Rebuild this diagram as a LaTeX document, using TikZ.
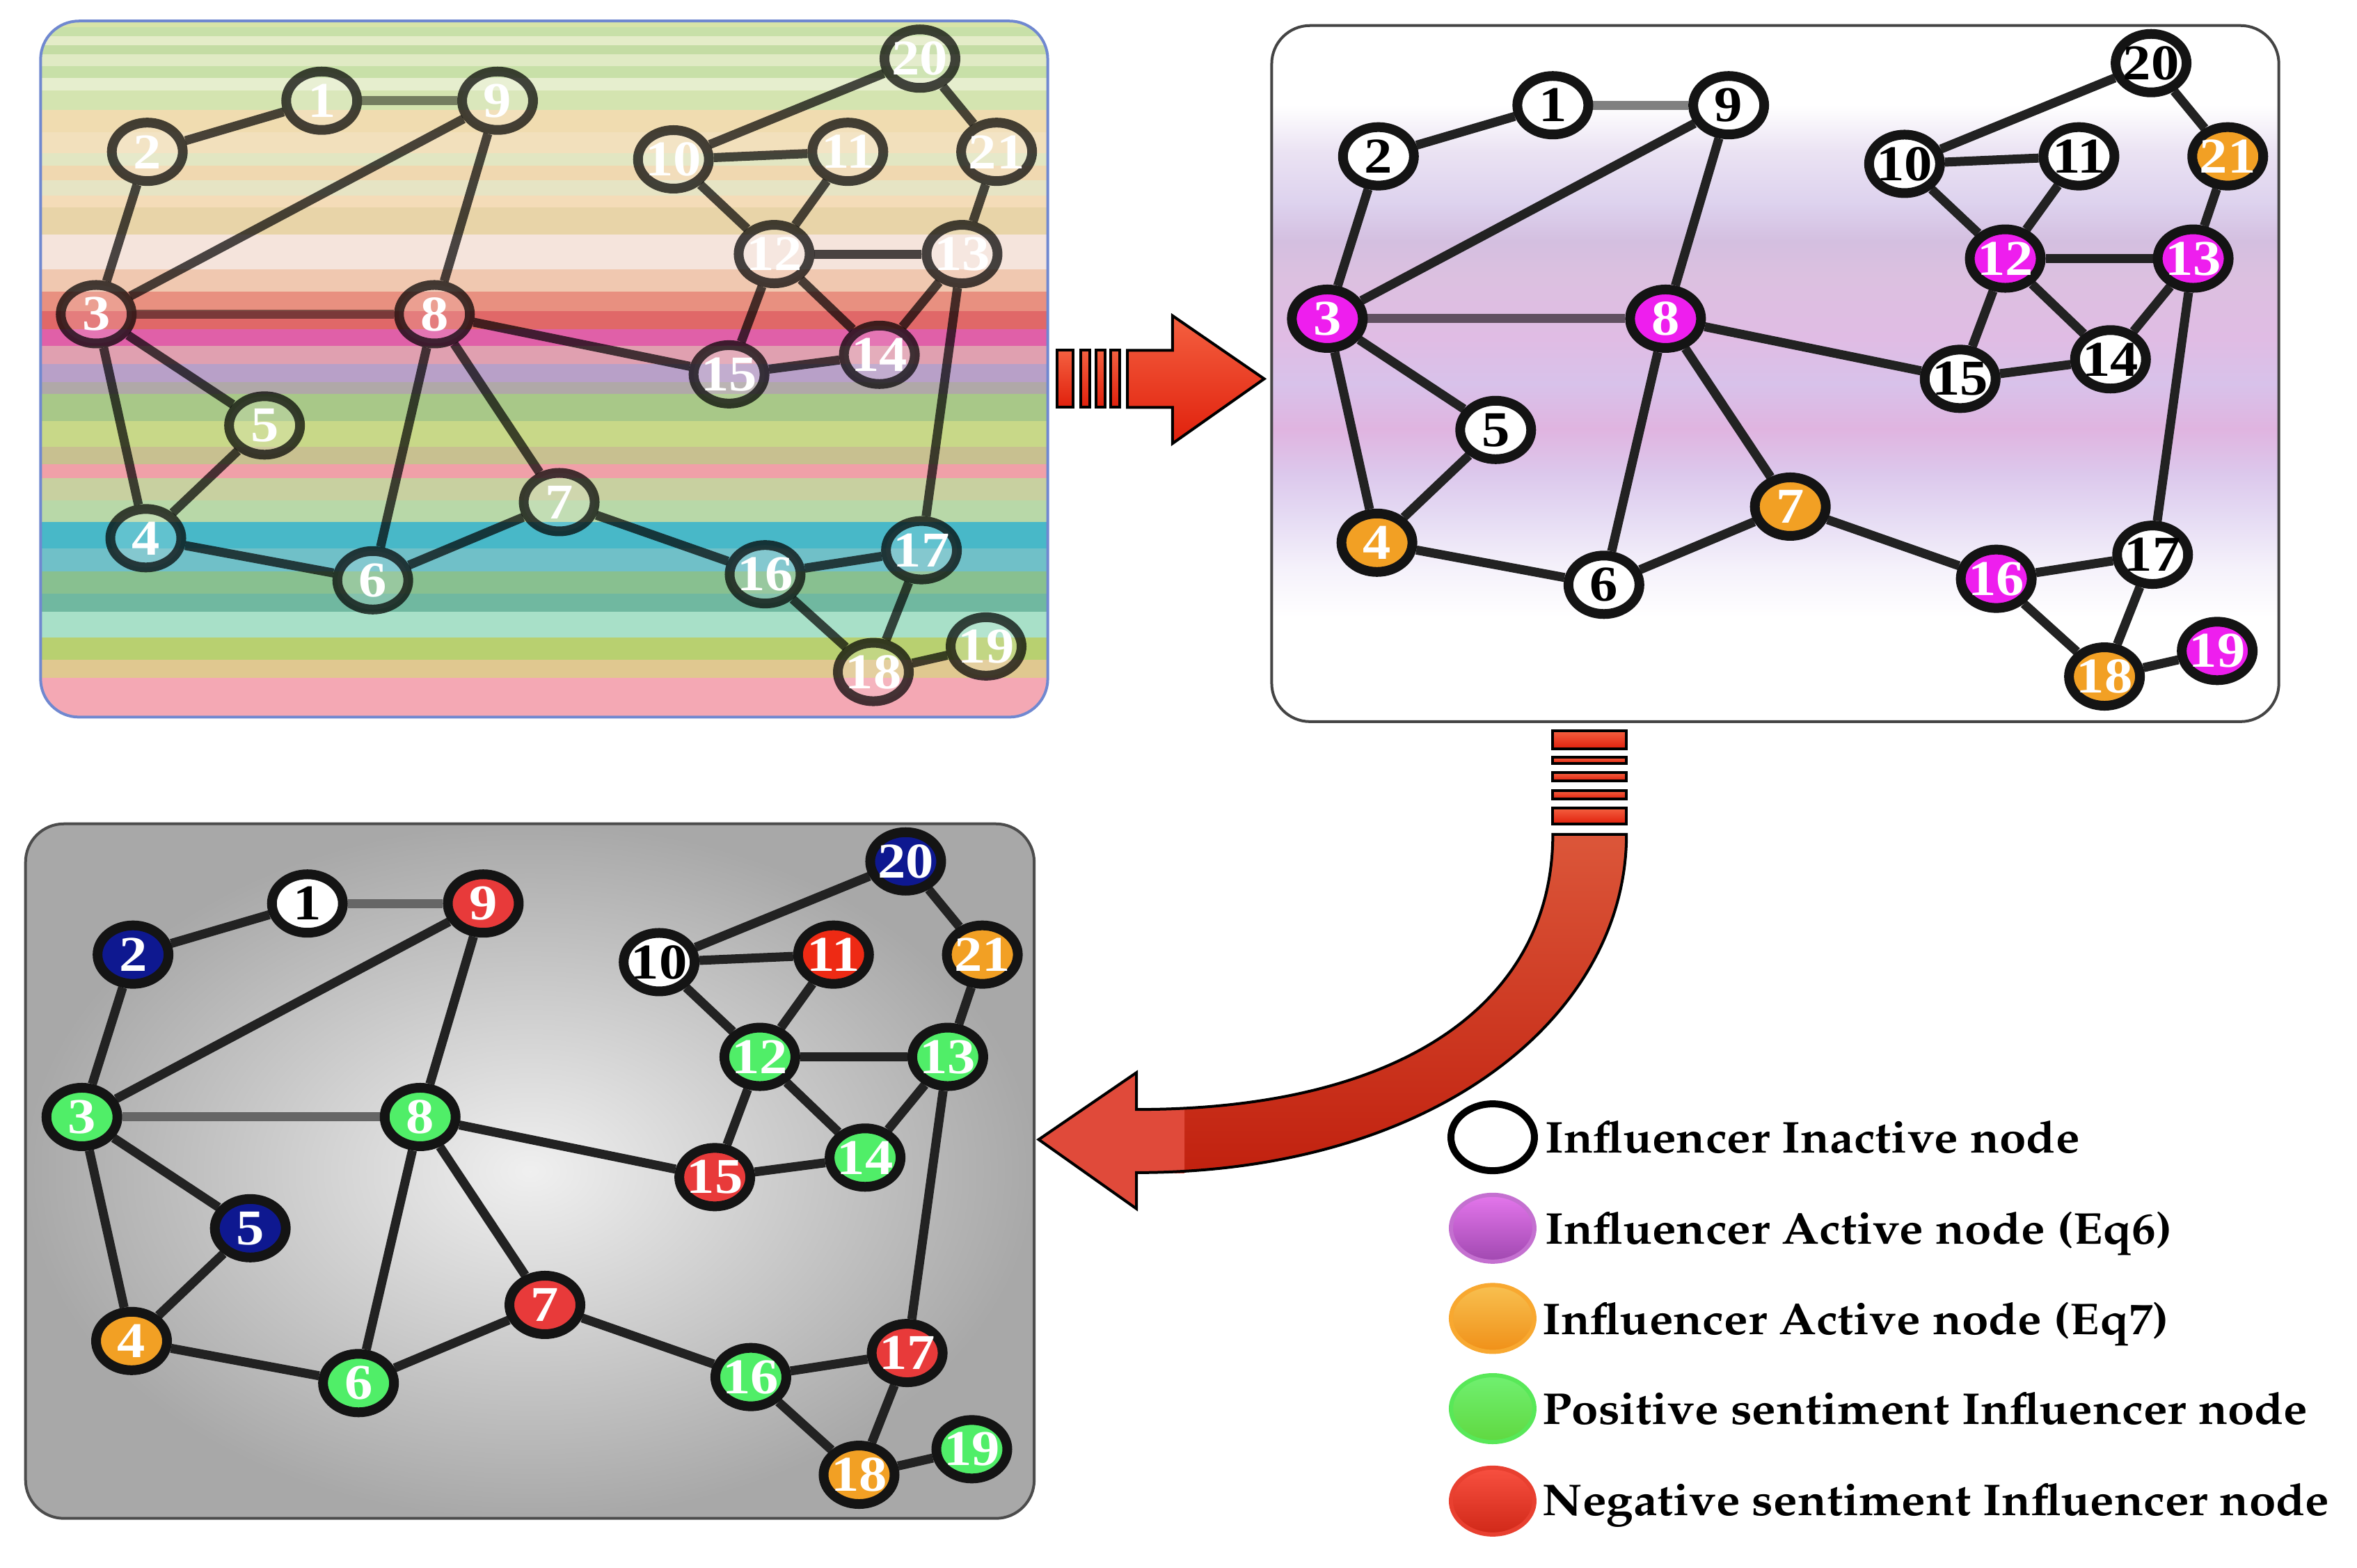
\documentclass[tikz,border=0pt]{standalone}
\usepackage[T1]{fontenc}
\usepackage{fontspec}
\usetikzlibrary{shapes.geometric}
\newfontfamily\numfont{Liberation Serif}[FakeStretch=1.12]
\newcommand{\legfont}{\fontencoding{T1}\fontfamily{ppl}\fontseries{b}\fontshape{n}\fontsize{64}{66}\selectfont}
\newcommand{\legtxt}[1]{\scalebox{1.08}[1]{#1}}
\definecolor{magn}{HTML}{EE1EEE}
\definecolor{orng}{HTML}{F2A024}
\definecolor{grn}{HTML}{50EE68}
\definecolor{redn}{HTML}{E83A3A}
\definecolor{redo}{HTML}{EE2A14}
\definecolor{blun}{HTML}{0E1890}
\definecolor{edgec}{HTML}{222222}
\definecolor{grayedge}{HTML}{666666}
\definecolor{panelborder}{HTML}{444444}
\definecolor{p1border}{HTML}{7088D0}
\definecolor{arrlight}{HTML}{F46040}
\definecolor{arrdark}{HTML}{E0200C}
\definecolor{headred}{HTML}{E04A3A}
\pgfdeclarelayer{bg}
\pgfdeclarelayer{edgelayer}
\pgfsetlayers{bg,edgelayer,main}
\newcommand\nodelist{1/214/67,9/331/67,2/98/101,3/64/209,8/289/209,5/176/283,4/97/358,6/248/386,7/372/334,10/448/106,11/564/101,20/612/39,21/663/101,12/515/169,13/640/169,15/485/249,14/585/236,16/509/382,17/613/366,18/581/447,19/656/430}
\newcommand\edgelist{1/2,2/3,3/9,3/5,3/4,5/4,4/6,6/8,8/9,8/7,6/7,8/15,7/16,10/20,10/11,10/12,11/12,20/21,21/13,12/13,12/15,12/14,13/14,15/14,13/17,16/17,16/18,17/18,18/19}
\tikzset{
  gnode/.style={ellipse, minimum width=102pt, minimum height=84pt, inner sep=0pt, line width=14pt, draw=black!92, font=\numfont\bfseries\fontsize{72}{72}\selectfont},
  pone/.style={draw=black, draw opacity=0.72, fill=white, fill opacity=0.14, text=white, text opacity=1},
  wnode/.style={fill=white, text=black},
  mnode/.style={fill=magn, text=white},
  onode/.style={fill=orng, text=white},
  gnd/.style={fill=grn, text=white},
  rnode/.style={fill=redn, text=white},
  rtwonode/.style={fill=redo, text=white},
  bnode/.style={fill=blun, text=white},
  gedge/.style={line width=13pt, draw=edgec},
  oneedge/.style={line width=13pt, draw=black, draw opacity=0.7},
  legc/.style={ellipse, minimum width=120pt, minimum height=96pt, inner sep=0pt},
  legtext/.style={anchor=base west, inner sep=0pt, font=\legfont, text=black},
  arrbox/.style={draw=black, line width=4pt, top color=arrlight, bottom color=arrdark},
  B1/.style=wnode, B2/.style=wnode, B3/.style=mnode, B4/.style=onode, B5/.style=wnode,
  B6/.style=wnode, B7/.style=onode, B8/.style=mnode, B9/.style=wnode, B10/.style=wnode,
  B11/.style=wnode, B12/.style=mnode, B13/.style=mnode, B14/.style=wnode, B15/.style=wnode,
  B16/.style=mnode, B17/.style=wnode, B18/.style=onode, B19/.style=mnode, B20/.style=wnode,
  B21/.style=onode,
  C1/.style=wnode, C2/.style=bnode, C3/.style=gnd, C4/.style=onode, C5/.style=bnode,
  C6/.style=gnd, C7/.style=rnode, C8/.style=gnd, C9/.style=rnode, C10/.style=wnode,
  C11/.style=rtwonode, C12/.style=gnd, C13/.style=gnd, C14/.style=gnd, C15/.style=rnode,
  C16/.style=gnd, C17/.style=rnode, C18/.style=onode, C19/.style=gnd, C20/.style=bnode,
  C21/.style=onode
}
\begin{document}
\begin{tikzpicture}[x=2.16pt,y=-2.16pt]
\useasboundingbox (0,0) rectangle (1568,1043);
\begin{pgfonlayer}{bg}
\fill[white] (0,0) rectangle (1568,1043);
% ---------- panel 1 background (stripes)
\begin{scope}
\clip[rounded corners=55pt] (27,14) rectangle (697,477);
\foreach \ya/\yb/\c in {14/18/D8E4A8,18/24/C8E0A8,24/30/E4ECC8,30/36/C4DCA4,36/44/E0EAC4,44/52/C8E0A8,52/60/E6EECE,60/73/D4E4B0,73/88/F0DCB0,88/102/F2E0BC,102/110/E2E6C2,110/120/F0D8B0,120/130/E6E4C4,130/138/F4DCB8,138/156/E8D4A8,156/179/F5E4DC,179/194/F0C8B0,194/207/E89080,207/219/E06868,219/230/E060A8,230/242/E0A0B0,242/254/B8A0C8,254/262/B0A8A8,262/280/A8C888,280/297/C8D888,297/309/C8C090,309/318/F0A0A8,318/333/C8D0A0,333/347/B8D8A8,347/365/48B8C8,365/380/70C0C8,380/395/88C090,395/407/70B8A0,407/424/A8E0C8,424/439/B8D070,439/451/E0C890,451/477/F4A8B4}
{\definecolor{tmpc}{HTML}{\c}\fill[tmpc] (27,\ya) rectangle (697,\yb+0.6);}
\end{scope}
\draw[rounded corners=55pt, draw=p1border, line width=4pt] (27,14) rectangle (697,477);
% ---------- panel 2 background (soft bands)
\begin{scope}
\clip[rounded corners=55pt] (846,17) rectangle (1516,480);
\fill[white] (846,17) rectangle (1516,480);
\foreach \ya/\yb/\ca/\cb in {70/100/FFFFFF/EBE3F3,100/135/EBE3F3/DDD2EE,135/160/DDD2EE/D4BFE0,160/185/D4BFE0/DCC0E0,185/225/DCC0E0/E0BCE4,225/255/E0BCE4/D8C2EA,255/285/D8C2EA/E0B4E0,285/315/E0B4E0/DCC8EC,315/345/DCC8EC/E6DCF4,345/375/E6DCF4/F4F0FA,375/410/F4F0FA/FFFFFF}
{\definecolor{ta}{HTML}{\ca}\definecolor{tb}{HTML}{\cb}\fill[top color=ta, bottom color=tb] (846,\ya) rectangle (1516,\yb+0.6);}
\end{scope}
\draw[rounded corners=55pt, draw=panelborder, line width=4pt] (846,17) rectangle (1516,480);
% ---------- panel 3 background (radial grey)
\fill[rounded corners=55pt, inner color=black!6, outer color=black!34] (17,548) rectangle (688,1010);
\draw[rounded corners=55pt, draw=black!70, line width=4pt] (17,548) rectangle (688,1010);
\end{pgfonlayer}

% ---------- panel 1 graph
\foreach \n/\x/\y in \nodelist {\node[gnode,pone] (A\n) at (\x,\y) {\makebox[0pt]{\n}};}
\begin{pgfonlayer}{edgelayer}
\foreach \a/\b in \edgelist {\draw[oneedge] (A\a) -- (A\b);}
\draw[oneedge, draw opacity=0.45] (A1) -- (A9);
\draw[oneedge, draw opacity=0.45] (A3) -- (A8);
\end{pgfonlayer}

% ---------- panel 2 graph
\begin{scope}[shift={(819,3)}]
\foreach \n/\x/\y in \nodelist {\node[gnode,B\n] (B\n) at (\x,\y) {\makebox[0pt]{\n}};}
\end{scope}
\begin{pgfonlayer}{edgelayer}
\foreach \a/\b in \edgelist {\draw[gedge] (B\a) -- (B\b);}
\draw[gedge, draw=black!50] (B1) -- (B9);
\draw[gedge, draw={rgb,255:red,96;green,80;blue,96}] (B3) -- (B8);
\end{pgfonlayer}

% ---------- panel 3 graph
\begin{scope}[shift={(-9.5,534)}]
\foreach \n/\x/\y in \nodelist {\node[gnode,C\n] (C\n) at (\x,\y) {\makebox[0pt]{\n}};}
\end{scope}
\begin{pgfonlayer}{edgelayer}
\foreach \a/\b in \edgelist {\draw[gedge] (C\a) -- (C\b);}
\draw[gedge, draw=grayedge] (C1) -- (C9);
\draw[gedge, draw=grayedge] (C3) -- (C8);
\end{pgfonlayer}

% ---------- straight arrow
\draw[arrbox] (703,233) rectangle (714,271);
\draw[arrbox] (719,233) rectangle (725,271);
\draw[arrbox] (729,233) rectangle (735,271);
\draw[arrbox] (739,233) rectangle (745,271);
\draw[arrbox, line join=miter] (750,233) -- (780,233) -- (780,210) -- (841,252) -- (780,295) -- (780,271) -- (750,271) -- cycle;

% ---------- curved arrow
\draw[arrbox] (1033,486) rectangle (1082,498);
\draw[arrbox] (1033,503.5) rectangle (1082,508);
\draw[arrbox] (1033,514) rectangle (1082,519.5);
\draw[arrbox] (1033,526) rectangle (1082,531.5);
\draw[arrbox] (1033,537.5) rectangle (1082,548);
\fill[top color=arrlight!90!black, bottom color=arrdark!85!black]
  (1033,555) -- (1082,555) .. controls (1082,675) and (956,780) .. (756,780)
  -- (756,804) -- (691,758) -- (756,713.5) -- (756,738)
  .. controls (936,738) and (1033,665) .. (1033,555) -- cycle;
\fill[fill=headred] (691,758) -- (756,713.5) -- (756,738) -- (788,736.5) -- (788,780.5) -- (756,780) -- (756,804) -- cycle;
\draw[draw=black, line width=4pt, line join=miter]
  (1033,555) -- (1082,555) .. controls (1082,675) and (956,780) .. (756,780)
  -- (756,804) -- (691,758) -- (756,713.5) -- (756,738)
  .. controls (936,738) and (1033,665) .. (1033,555) -- cycle;

% ---------- legend
\node[legc, fill=white, draw=black, line width=10pt] (L1) at (993,756.5) {};
\node[legc, top color={rgb,255:red,228;green,118;blue,236}, bottom color={rgb,255:red,160;green,72;blue,176}, draw={rgb,255:red,196;green,112;blue,208}, line width=6pt] (L2) at (993,817) {};
\node[legc, top color={rgb,255:red,248;green,192;blue,80}, bottom color={rgb,255:red,240;green,144;blue,24}, draw={rgb,255:red,248;green,168;blue,48}, line width=6pt] (L3) at (993,877) {};
\node[legc, top color={rgb,255:red,112;green,240;blue,112}, bottom color={rgb,255:red,96;green,216;blue,64}, draw={rgb,255:red,88;green,232;blue,88}, line width=6pt] (L4) at (993,937) {};
\node[legc, top color={rgb,255:red,248;green,80;blue,64}, bottom color={rgb,255:red,208;green,40;blue,24}, draw={rgb,255:red,232;green,64;blue,48}, line width=6pt] (L5) at (993,998.5) {};
\node[legtext] (T1) at (1028,767) {\legtxt{Influencer Inactive node}};
\node[legtext] (T2) at (1028,827.5) {\legtxt{Influencer Active node (Eq6)}};
\node[legtext] (T3) at (1026,887.5) {\legtxt{Influencer Active node (Eq7)}};
\node[legtext] (T4) at (1026,947.5) {\legtxt{Positive sentiment Influencer node}};
\node[legtext] (T5) at (1026,1008) {\legtxt{Negative sentiment Influencer node}};
\end{tikzpicture}
\end{document}
